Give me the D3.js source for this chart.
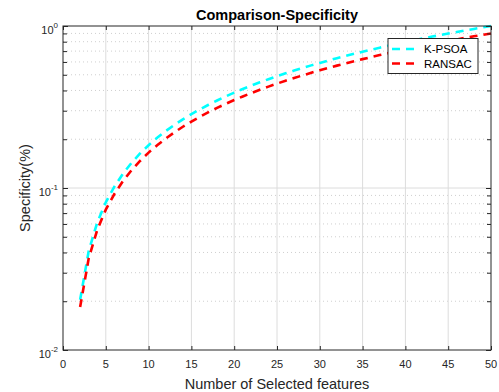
<!DOCTYPE html>
<html>
<head>
<meta charset="utf-8">
<script src="https://cdn.jsdelivr.net/npm/d3@7"></script>
<style>
  body { margin: 0; background: #fff; }
  svg text { font-family: "Liberation Sans", Arial, Helvetica, sans-serif; fill: #262626; }
</style>
</head>
<body>
<div id="chart"></div>
<script>
// data
const features = [2, 3, 4, 5, 6, 7, 8, 9, 10, 11, 12, 13, 14, 15, 16, 17, 18, 19, 20, 21, 22, 23, 24, 25, 26,
  27, 28, 29, 30, 31, 32, 33, 34, 35, 36, 37, 38, 39, 40, 41, 42, 43, 44, 45, 46, 47, 48, 49, 50];
const kpsoa = [0.0204, 0.0408, 0.0612, 0.0816, 0.102, 0.1224, 0.1429, 0.1633, 0.1837, 0.2041, 0.2245, 0.2449,
  0.2653, 0.2857, 0.3061, 0.3265, 0.3469, 0.3673, 0.3878, 0.4082, 0.4286, 0.449, 0.4694, 0.4898, 0.5102,
  0.5306, 0.551, 0.5714, 0.5918, 0.6122, 0.6327, 0.6531, 0.6735, 0.6939, 0.7143, 0.7347, 0.7551, 0.7755,
  0.7959, 0.8163, 0.8367, 0.8571, 0.8776, 0.898, 0.9184, 0.9388, 0.9592, 0.9796, 1.0];
const ransac = [0.0184, 0.0367, 0.0551, 0.0735, 0.0918, 0.1102, 0.1286, 0.1469, 0.1653, 0.1837, 0.202, 0.2204,
  0.2388, 0.2571, 0.2755, 0.2939, 0.3122, 0.3306, 0.349, 0.3673, 0.3857, 0.4041, 0.4224, 0.4408, 0.4592,
  0.4776, 0.4959, 0.5143, 0.5327, 0.551, 0.5694, 0.5878, 0.6061, 0.6245, 0.6429, 0.6612, 0.6796, 0.698,
  0.7163, 0.7347, 0.7531, 0.7714, 0.7898, 0.8082, 0.8265, 0.8449, 0.8633, 0.8816, 0.9];
const seriesNames = ['K-PSOA', 'RANSAC'];
const xTicks = [0, 5, 10, 15, 20, 25, 30, 35, 40, 45, 50];
const yTicks = [0.01, 0.1, 1];
const yExponents = ['-2', '-1', '0'];

let width = 499,
    height = 392,
    margin = {top: 26, left: 63, right: 8, bottom: 42},
    axisColor = '#262626',
    gridColor = '#dcdcdc',
    colors = ['#00ffff', '#ff0000'],
    dash = '8,6';

let svg = d3.select('#chart').append('svg')
    .attr('width', width)
    .attr('height', height);

svg.append('rect').attr('width', width).attr('height', height).attr('fill', '#fff');

let x = d3.scaleLinear().domain([0, 50]).range([margin.left, width - margin.right]);
let y = d3.scaleLog().domain([0.01, 1]).range([height - margin.bottom, margin.top]);

// minor values 2..9 in each decade
let yMinor = [];
yTicks.slice(0, -1).forEach(d => d3.range(2, 10).forEach(k => yMinor.push(d * k)));

// grid
let grid = svg.append('g');
grid.selectAll('line.minor')
    .data(yMinor)
    .enter().append('line')
    .attr('x1', x(0)).attr('x2', x(50))
    .attr('y1', d => y(d)).attr('y2', d => y(d))
    .attr('stroke', '#cfcfcf')
    .attr('stroke-dasharray', '1,3');
grid.selectAll('line.vx')
    .data(xTicks.slice(1, -1))
    .enter().append('line')
    .attr('x1', d => x(d)).attr('x2', d => x(d))
    .attr('y1', y(0.01)).attr('y2', y(1))
    .attr('stroke', gridColor);
grid.selectAll('line.hy')
    .data(yTicks.slice(1, -1))
    .enter().append('line')
    .attr('x1', x(0)).attr('x2', x(50))
    .attr('y1', d => y(d)).attr('y2', d => y(d))
    .attr('stroke', gridColor);

// curves
let line = d3.line()
    .x((d, i) => x(features[i]))
    .y(d => y(d));

[kpsoa, ransac].forEach((s, i) => {
  svg.append('path')
      .datum(s)
      .attr('d', line)
      .attr('fill', 'none')
      .attr('stroke', colors[i])
      .attr('stroke-width', 2.6)
      .attr('stroke-dasharray', dash);
});

// axes: ticks pointing inward on all four sides
let axes = svg.append('g');
axes.append('g')
    .attr('transform', `translate(0,${y(0.01)})`)
    .call(d3.axisTop(x).tickValues(xTicks).tickSize(4).tickFormat(''));
axes.append('g')
    .attr('transform', `translate(0,${y(1)})`)
    .call(d3.axisBottom(x).tickValues(xTicks).tickSize(4).tickFormat(''));
axes.append('g')
    .attr('transform', `translate(${x(0)},0)`)
    .call(d3.axisRight(y).tickValues(yTicks).tickSize(5).tickFormat(''));
axes.append('g')
    .attr('transform', `translate(${x(0)},0)`)
    .call(d3.axisRight(y).tickValues(yMinor).tickSize(4).tickFormat(''));
axes.append('g')
    .attr('transform', `translate(${x(50)},0)`)
    .call(d3.axisLeft(y).tickValues(yTicks).tickSize(5).tickFormat(''));
axes.append('g')
    .attr('transform', `translate(${x(50)},0)`)
    .call(d3.axisLeft(y).tickValues(yMinor).tickSize(4).tickFormat(''));
axes.selectAll('.domain').remove();
axes.selectAll('line').attr('stroke', axisColor);

svg.append('rect')
    .attr('x', x(0)).attr('y', y(1))
    .attr('width', x(50) - x(0))
    .attr('height', y(0.01) - y(1))
    .attr('fill', 'none')
    .attr('stroke', axisColor)
    .attr('stroke-width', 1);

// tick labels
svg.append('g').selectAll('text')
    .data(xTicks)
    .enter().append('text')
    .attr('x', d => x(d))
    .attr('y', y(0.01) + 18)
    .attr('text-anchor', 'middle')
    .style('font-size', '11px')
    .text(d => d);

let yl = svg.append('g').selectAll('text')
    .data(yTicks)
    .enter().append('text')
    .attr('x', x(0) - 5)
    .attr('y', d => y(d) + 7.5)
    .attr('text-anchor', 'end')
    .style('font-size', '11px');
yl.append('tspan').text('10');
yl.append('tspan')
    .attr('dy', -6)
    .style('font-size', '8px')
    .text((d, i) => yExponents[i]);

// titles
svg.append('text')
    .attr('x', (x(0) + x(50)) / 2)
    .attr('y', 20)
    .attr('text-anchor', 'middle')
    .style('font-size', '14.5px')
    .style('font-weight', 'bold')
    .style('fill', '#000')
    .text('Comparison-Specificity');

svg.append('text')
    .attr('x', (x(0) + x(50)) / 2)
    .attr('y', 389)
    .attr('text-anchor', 'middle')
    .style('font-size', '14.5px')
    .text('Number of Selected features');

svg.append('text')
    .attr('transform', `translate(29.5,${(y(1) + y(0.01)) / 2}) rotate(-90)`)
    .attr('text-anchor', 'middle')
    .style('font-size', '14.5px')
    .text('Specificity(%)');

// legend
let legend = svg.append('g');
legend.append('rect')
    .attr('x', 388).attr('y', 38.5)
    .attr('width', 90).attr('height', 35)
    .attr('fill', '#fff')
    .attr('stroke', axisColor);
seriesNames.forEach((name, i) => {
  let ly = 49 + i * 14.5;
  legend.append('line')
      .attr('x1', 392).attr('x2', 417)
      .attr('y1', ly).attr('y2', ly)
      .attr('stroke', colors[i])
      .attr('stroke-width', 2.6)
      .attr('stroke-dasharray', dash);
  legend.append('text')
      .attr('x', 424)
      .attr('y', ly + 4.2)
      .style('font-size', '11.5px')
      .style('fill', '#000')
      .text(name);
});
</script>
</body>
</html>
